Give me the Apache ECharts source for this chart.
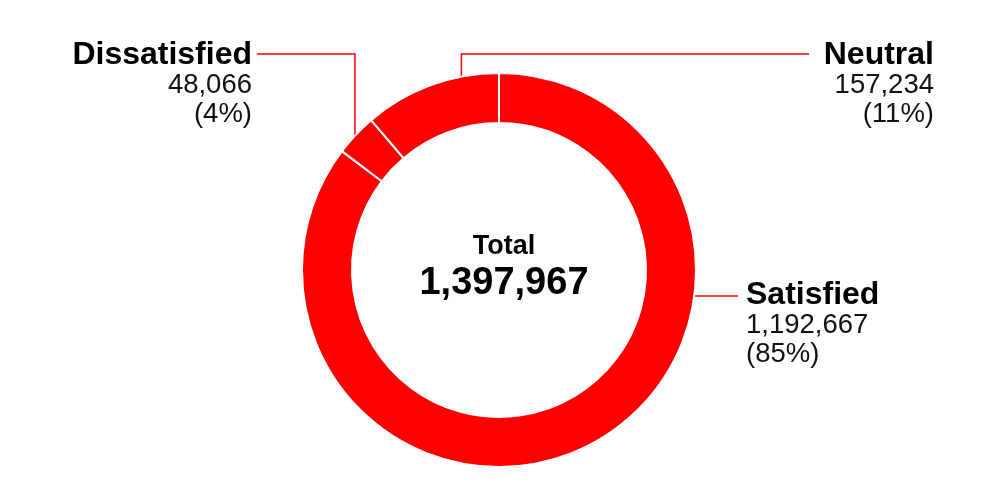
<!DOCTYPE html>
<html>
<head>
<meta charset="utf-8">
<script src="https://cdn.jsdelivr.net/npm/echarts@6/dist/echarts.min.js"></script>
<style>
  html, body { margin: 0; padding: 0; background: #fff; }
  #chart { width: 1000px; height: 500px; }
</style>
</head>
<body>
<div id="chart"></div>
<script>
// data
var categories = ['Satisfied', 'Dissatisfied', 'Neutral'];
var values = [1192667, 48066, 157234];

var total = values.reduce(function (a, b) { return a + b; }, 0);

// ring geometry (px)
var CX = 499, CY = 270, R_IN = 147, R_OUT = 197;

function edgePoint(deg) {
  // deg measured clockwise from 12 o'clock
  var a = deg * Math.PI / 180;
  return [CX + R_OUT * Math.sin(a), CY - R_OUT * Math.cos(a)];
}

// where each label sits and how its line bends
function layoutFor(i) {
  var p;
  if (i === 0) { // Satisfied
    p = edgePoint(97.6);
    return {
      x: 746, y: 279, align: 'left', verticalAlign: 'top',
      labelLinePoints: [p, [(p[0] + 738) / 2, p[1]], [738, p[1]]]
    };
  }
  if (i === 1) { // Dissatisfied
    p = edgePoint(313);
    return {
      x: 252, y: 39, align: 'right', verticalAlign: 'top',
      labelLinePoints: [p, [p[0], 54], [257, 54]]
    };
  }
  p = edgePoint(349); // Neutral
  return {
    x: 934, y: 39, align: 'right', verticalAlign: 'top',
    labelLinePoints: [p, [p[0], 54], [809, 54]]
  };
}

var chart = echarts.init(document.getElementById('chart'));

var option = {
  backgroundColor: '#ffffff',
  animation: false,
  title: {
    text: '{t|Total}\n{n|' + echarts.format.addCommas(total) + '}',
    left: CX,
    top: 227,
    textAlign: 'center',
    textStyle: {
      rich: {
        t: { fontFamily: 'Liberation Sans', fontSize: 27, fontWeight: 'bold', color: '#000', lineHeight: 30, align: 'center' },
        n: { fontFamily: 'Liberation Sans', fontSize: 38, fontWeight: 'bold', color: '#000', lineHeight: 44, align: 'center' }
      }
    }
  },
  series: [{
    type: 'pie',
    center: [CX, CY],
    radius: [R_IN, R_OUT],
    startAngle: 90,
    clockwise: true,
    percentPrecision: 0,
    avoidLabelOverlap: false,
    silent: true,
    itemStyle: {
      color: '#ff0000',
      borderColor: '#ffffff',
      borderWidth: 2
    },
    label: {
      show: true,
      position: 'outside',
      formatter: function (p) {
        return '{n|' + p.name + '}\n{v|' + echarts.format.addCommas(p.value) + '}\n{v|(' + p.percent + '%)}';
      },
      rich: {
        n: { fontFamily: 'Liberation Sans', fontSize: 32, fontWeight: 'bold', color: '#000', lineHeight: 32 },
        v: { fontFamily: 'Liberation Sans', fontSize: 27.5, color: '#111', lineHeight: 29 }
      }
    },
    labelLine: {
      show: true,
      smooth: false,
      lineStyle: { color: '#ff0000', width: 1.5 }
    },
    labelLayout: function (params) {
      return layoutFor(params.dataIndex);
    },
    data: categories.map(function (c, i) {
      return { name: c, value: values[i] };
    })
  }]
};

chart.setOption(option);
</script>
</body>
</html>
